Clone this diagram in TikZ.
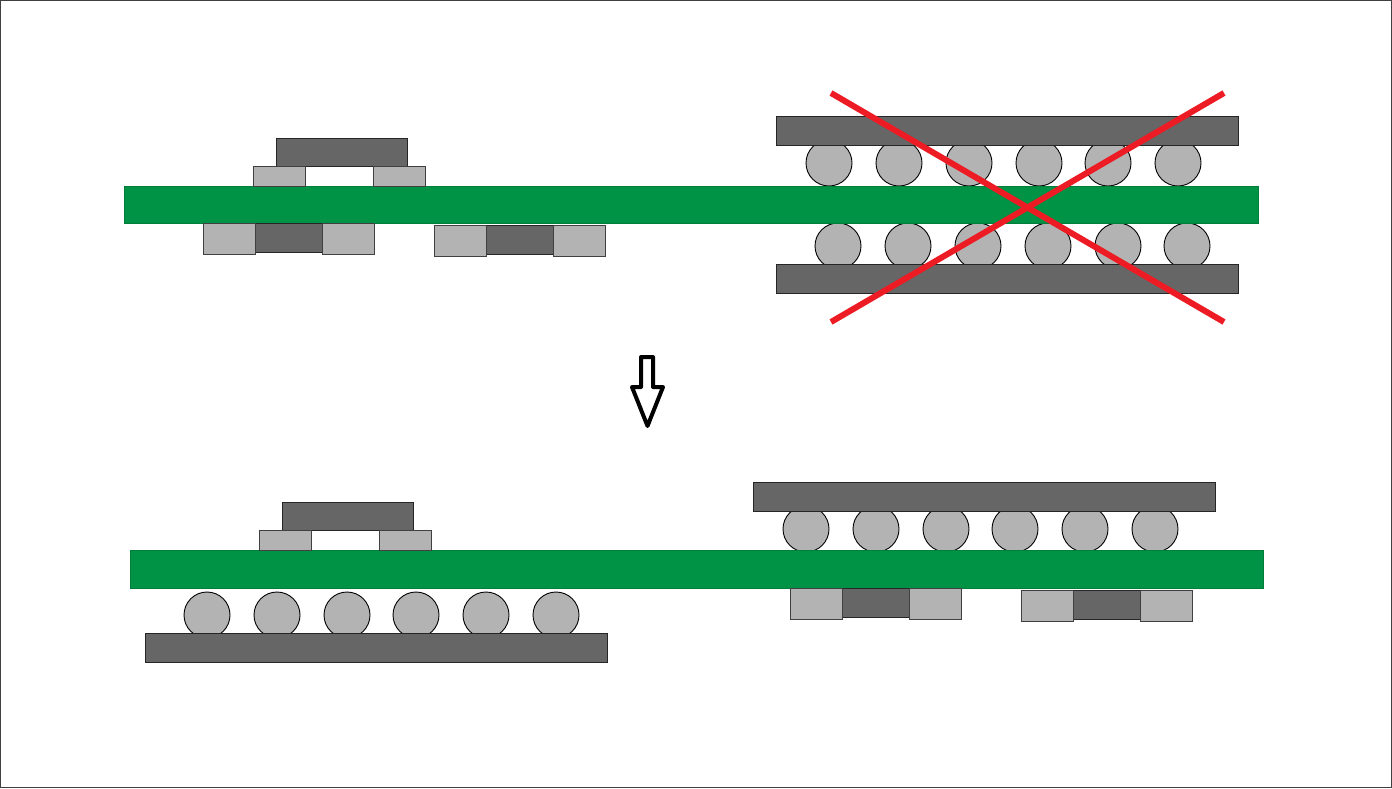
\documentclass[tikz,border=0pt]{standalone}
\definecolor{pcbgreen}{RGB}{0,146,69}
\definecolor{chipdark}{RGB}{102,102,102}
\definecolor{padgray}{RGB}{179,179,179}
\definecolor{crossred}{RGB}{237,28,36}
\tikzset{
  pcb/.style={fill=pcbgreen,draw=pcbgreen!85!black,line width=0.6pt},
  chip/.style={fill=chipdark,draw=black!85,line width=0.9pt},
  pad/.style={fill=padgray,draw=black!75,line width=0.9pt},
  ball/.style={fill=padgray,draw=black,line width=0.9pt},
  crossline/.style={draw=crossred,line width=6pt},
  downarrow/.style={draw=black,line width=4pt,fill=white,line join=round},
  frameline/.style={draw=black!75,line width=0.9pt}
}
\newcommand{\balls}[2]{\foreach \cx in {#1} \draw[ball] (\cx,#2) circle (23);}
\newcommand{\smd}[2]{% left x, top y
  \draw[chip] (#1+52,#2) rectangle (#1+119,#2+29);
  \draw[pad] (#1,#2) rectangle (#1+52,#2+31);
  \draw[pad] (#1+119,#2) rectangle (#1+171,#2+31);
}
\newcommand{\bridge}[2]{% chip left x, chip top y
  \draw[chip] (#1,#2) rectangle (#1+131,#2+28);
  \draw[pad] (#1-23,#2+28) rectangle (#1+29,#2+48);
  \draw[pad] (#1+97,#2+28) rectangle (#1+149,#2+48);
}
\begin{document}
\begin{tikzpicture}[x=1pt,y=-1pt]
\useasboundingbox (0,0) rectangle (1392,788);
\draw[frameline] (0.5,0.5) rectangle (1391.5,787.5);
% upper assembly
\balls{829,899,969,1039,1108,1178}{163}
\balls{838,908,978,1048,1118,1187}{246}
\draw[pcb] (123.8,186) rectangle (1257.8,223);
\bridge{276.8}{138}
\smd{203.8}{223}
\smd{434.8}{225}
\draw[chip] (776.8,116) rectangle (1238.8,145);
\draw[chip] (776.8,264) rectangle (1238.8,293);
\draw[crossline] (831,93) -- (1224,322);
\draw[crossline] (1224,93) -- (831,322);
% arrow
\draw[downarrow] (641,357) -- (653,357) -- (653,387) -- (663,387) -- (647.5,426) -- (632,387) -- (641,387) -- cycle;
% lower assembly
\balls{207,277,347,416,486,556}{615}
\balls{806,876,946,1015,1085,1155}{529}
\draw[pcb] (130,550) rectangle (1263.5,588);
\bridge{282.8}{502}
\draw[chip] (145,633) rectangle (607.8,662);
\draw[chip] (753.8,482) rectangle (1215.8,511);
\smd{790}{588}
\smd{1021.8}{590}
\end{tikzpicture}
\end{document}
